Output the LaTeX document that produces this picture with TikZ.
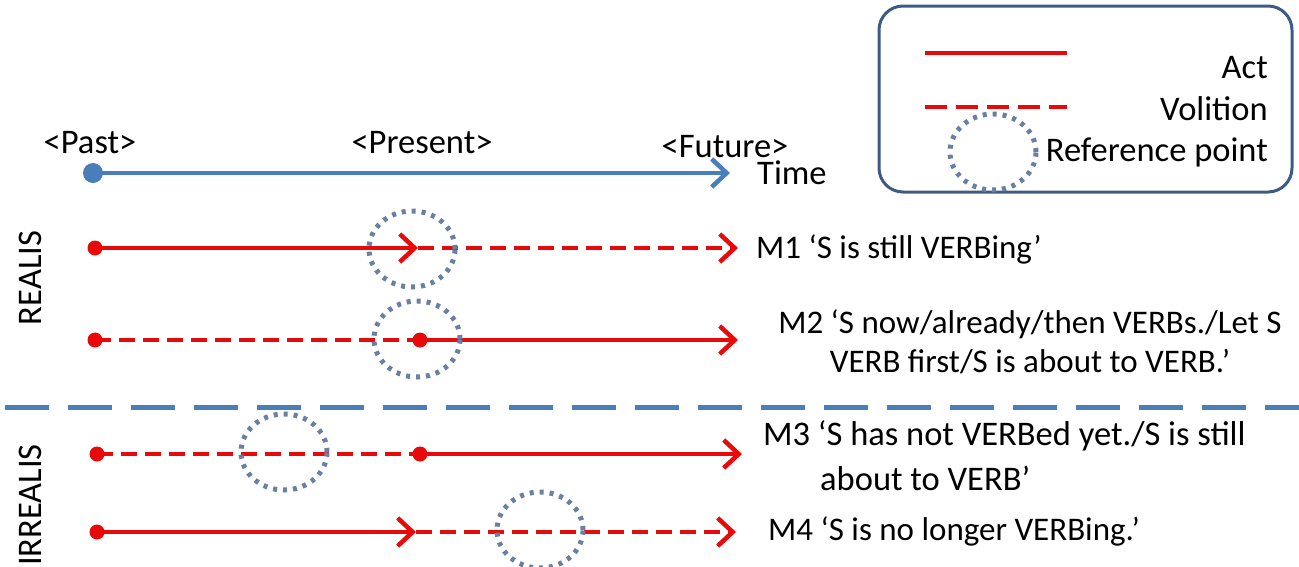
\documentclass[tikz,border=0pt]{standalone}
\usepackage{fontspec}
\setmainfont{Carlito}
\usetikzlibrary{arrows.meta,shapes.geometric}
\definecolor{actred}{RGB}{232,10,10}
\definecolor{timeblue}{RGB}{74,126,187}
\definecolor{refgray}{RGB}{105,128,160}
\definecolor{boxblue}{RGB}{62,92,130}
\begin{document}
\begin{tikzpicture}[x=1pt,y=-1pt,
  txt/.style={font=\fontsize{33}{39}\selectfont,inner sep=0pt},
  big/.style={font=\fontsize{34.5}{40}\selectfont,inner sep=0pt},
  act/.style={actred,line width=4pt},
  vol/.style={actred,line width=4pt,dash pattern=on 16pt off 8pt},
  tip/.style={-{Straight Barb[length=15pt,width=28pt,line width=4.5pt]}},
  reddot/.style={circle,fill=actred,inner sep=0pt,minimum size=15pt},
  bluedot/.style={circle,fill=timeblue,inner sep=0pt,minimum size=20pt},
  refpt/.style={ellipse,draw=refgray,line width=5pt,dash pattern=on 4pt off 6pt,inner sep=0pt,minimum width=86pt,minimum height=76pt},
]
\useasboundingbox (0,0) rectangle (1299,566);
% legend
\node[draw=boxblue,line width=3pt,rounded corners=24pt,minimum width=413pt,minimum height=186pt] (legend) at (1085.5,99) {};
\coordinate (la0) at (925,53); \coordinate (la1) at (1067,53);
\coordinate (lv0) at (925,107); \coordinate (lv1) at (1067,107);
\draw[act] (la0) -- (la1);
\draw[actred,line width=4pt,dash pattern=on 22pt off 9pt] (lv0) -- (lv1);
\node[refpt] (lref) at (993,152) {};
\node[big,anchor=base east] (tact) at (1268,78) {Act};
\node[big,anchor=base east] (tvol) at (1268,120) {Volition};
\node[big,anchor=base east] (tref) at (1268,161) {Reference point};
% time axis
\node[bluedot] (t0) at (93,173) {};
\coordinate (t1) at (730,173);
\draw[timeblue,line width=4pt,tip] (t0.center) -- (t1);
\node[big,anchor=base] (past) at (90,153) {<Past>};
\node[big,anchor=base] (present) at (422,153) {<Present>};
\node[big,anchor=base] (future) at (725,157) {<Future>};
\node[big,anchor=base west] (time) at (757,184) {Time};
% side labels
\node[big,rotate=90] (realis) at (30,278) {REALIS};
\node[big,rotate=90] (irrealis) at (30,505) {IRREALIS};
% M1
\node[reddot] (m1a) at (95,248) {};
\coordinate (m1b) at (418,248); \coordinate (m1c) at (738,248);
\draw[act,tip] (m1a.center) -- (m1b);
\draw[vol,tip] (m1b) -- (m1c);
\node[refpt] (r1) at (412,249) {};
\node[txt,anchor=west] (l1) at (756,249) {M1 ‘S is still VERBing’};
% M2
\node[reddot] (m2a) at (95,340) {};
\node[reddot] (m2b) at (420,340) {};
\coordinate (m2c) at (738,340);
\draw[vol] (m2a.center) -- (m2b.center);
\draw[act,tip] (m2b.center) -- (m2c);
\node[refpt] (r2) at (417,339) {};
\node[txt,align=center] (l2) at (1030,342) {M2 ‘S now/already/then VERBs./Let S\\VERB first/S is about to VERB.’};
% separator
\coordinate (s0) at (5,407); \coordinate (s1) at (1299,407);
\draw[timeblue,line width=5pt,dash pattern=on 44pt off 19pt] (s0) -- (s1);
% M3
\node[reddot] (m3a) at (97,454) {};
\node[reddot] (m3b) at (420,454) {};
\coordinate (m3c) at (742,454);
\draw[vol] (m3a.center) -- (m3b.center);
\draw[act,tip] (m3b.center) -- (m3c);
\node[refpt] (r3) at (284,452) {};
\node[big,anchor=west] (l3a) at (763,436) {M3 ‘S has not VERBed yet./S is still};
\node[big,anchor=west] (l3b) at (820,478) {about to VERB’};
% M4
\node[reddot] (m4a) at (97,532) {};
\coordinate (m4b) at (416,532); \coordinate (m4c) at (736,532);
\draw[act,tip] (m4a.center) -- (m4b);
\draw[vol,tip] (m4b) -- (m4c);
\node[refpt] (r4) at (540,530) {};
\node[txt,anchor=west] (l4) at (768,531) {M4 ‘S is no longer VERBing.’};
\end{tikzpicture}
\end{document}
